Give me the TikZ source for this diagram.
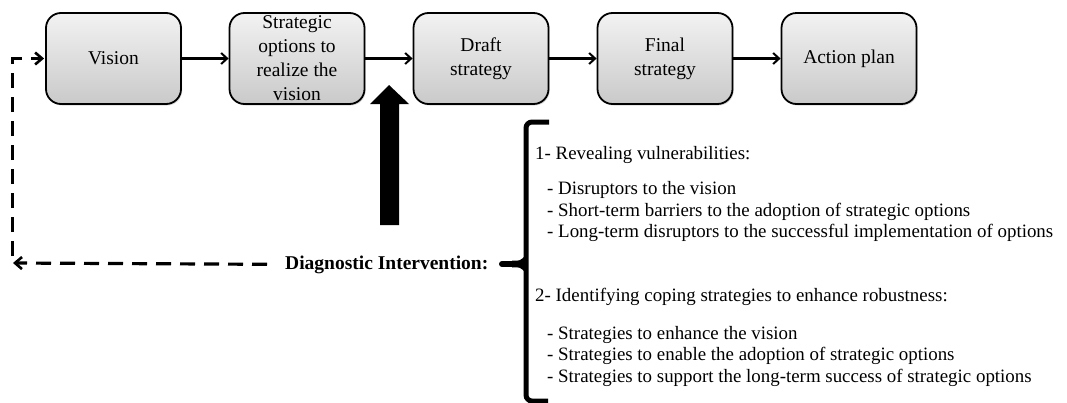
\documentclass[tikz,border=0pt]{standalone}
\usepackage{fontspec}
\setmainfont{Liberation Serif}
\usetikzlibrary{arrows.meta,shadows,calc}
\begin{document}
\begin{tikzpicture}[x=1pt,y=-1pt,
  stagebox/.style={draw=black, line width=1.8pt, rounded corners=15pt,
    top color=gray!10, bottom color=gray!42,
    minimum width=135pt, minimum height=91pt, inner sep=0pt, align=center,
    font=\fontsize{19.5}{24}\selectfont,
    drop shadow={shadow xshift=1.2pt, shadow yshift=-1.5pt, opacity=0.3}},
  flow/.style={line width=2.2pt, -{Straight Barb[length=6pt,width=11pt,line width=2pt]}},
  feedback/.style={line width=3.2pt, dash pattern=on 15pt off 9pt,
    -{Straight Barb[length=7pt,width=12pt,line width=2.6pt]}},
  listtext/.style={anchor=base west, inner sep=0pt, font=\fontsize{18.9}{21.5}\selectfont}
]
\useasboundingbox (0,0) rectangle (1067,402);

% process boxes
\node[stagebox] (vision)  at (113.5,58.5) {Vision};
\node[stagebox] (options) at (297,58.5)   {Strategic\\options to\\realize the\\vision};
\node[stagebox] (draft)   at (481,58.5)   {Draft\\strategy};
\node[stagebox] (final)   at (665,58.5)   {Final\\strategy};
\node[stagebox] (action)  at (849,58.5)   {Action plan};

\draw[flow] (vision) -- (options);
\draw[flow] (options) -- (draft);
\draw[flow] (draft) -- (final);
\draw[flow] (final) -- (action);

% big upward arrow
\fill[black] (380,225) -- (380,104) -- (370,104) -- (389,85) -- (409,104) -- (399,104) -- (399,225) -- cycle;

% diagnostic label
\node[anchor=base west, inner sep=0pt, font=\bfseries\fontsize{19.5}{21.5}\selectfont]
  (diag) at (285,269) {Diagnostic Intervention:};

% feedback dashed path
\coordinate (fbturn) at (13,263);
\coordinate (fbstart) at (12.5,256);
\draw[feedback, shorten <=18pt] (diag.west) -- (fbturn);
\draw[feedback, shorten >=1pt] (fbstart) |- (vision.west);

% brace
\draw[line width=5pt, rounded corners=6pt] (549,122) -- (526,122) -- (526,401) -- (548,401);
\draw[line width=6pt, line cap=round] (502,264) -- (522,264);
\fill (512,260.5) .. controls (520,261) .. (526,255) -- (526,273) .. controls (520,267) .. (512,267.5) -- cycle;

% list text
\node[listtext] (h1) at (535,159) {1- Revealing vulnerabilities:};
\node[listtext] (a1) at (547,194) {- Disruptors to the vision};
\node[listtext] (a2) at (547,216) {- Short-term barriers to the adoption of strategic options};
\node[listtext] (a3) at (547,237) {- Long-term disruptors to the successful implementation of options};
\node[listtext] (h2) at (535,301) {2- Identifying coping strategies to enhance robustness:};
\node[listtext] (b1) at (547,339) {- Strategies to enhance the vision};
\node[listtext] (b2) at (547,360) {- Strategies to enable the adoption of strategic options};
\node[listtext] (b3) at (547,382) {- Strategies to support the long-term success of strategic options};
\end{tikzpicture}
\end{document}
